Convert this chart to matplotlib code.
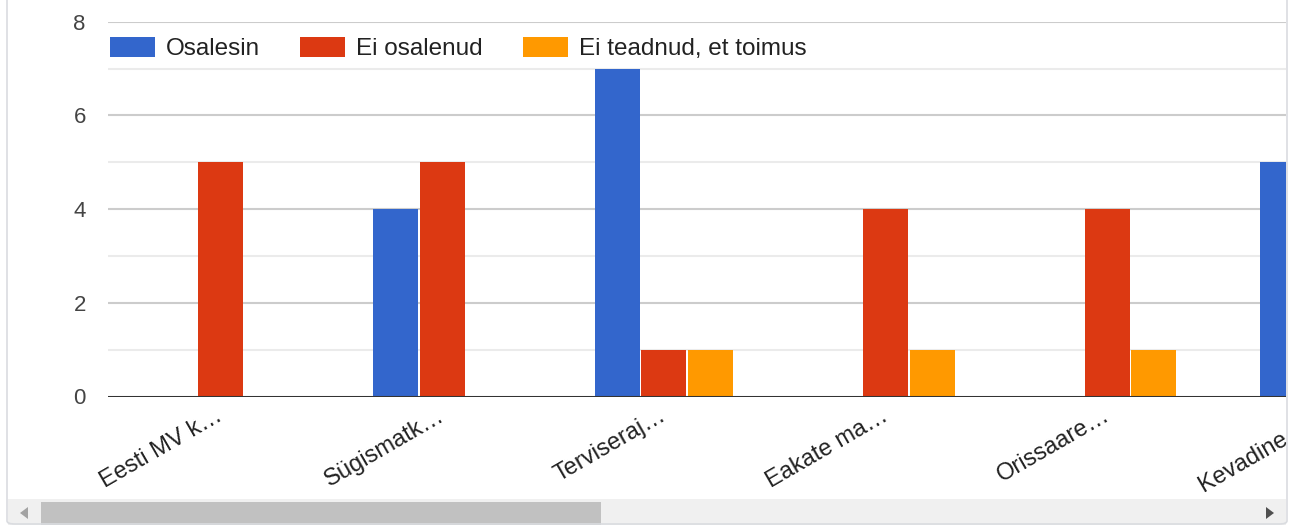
import matplotlib.pyplot as plt
import numpy as np
from matplotlib.patches import FancyBboxPatch, Rectangle, Polygon
from matplotlib.transforms import blended_transform_factory, offset_copy

plt.rcParams['font.family'] = ['Liberation Sans', 'DejaVu Sans']

# Vastused ürituste kaupa
sundmused = ['Eesti MV k…', 'Sügismatk…', 'Terviseraj…', 'Eakate ma…', 'Orissaare…', 'Kevadine m…']
osalesin = [0, 4, 7, 0, 0, 5]
ei_osalenud = [5, 5, 1, 4, 4, 0]
ei_teadnud = [0, 0, 1, 1, 1, 0]
y_ticks = [0, 2, 4, 6, 8]

seeriad = ['Osalesin', 'Ei osalenud', 'Ei teadnud, et toimus']
varvid = ['#3366cc', '#dc3912', '#ff9900']

fig = plt.figure(figsize=(13, 5.25), dpi=100)
ax = fig.add_axes([108 / 1300, 128.5 / 525, 1178 / 1300, 374.8 / 525])

index = np.arange(len(sundmused))
samm = 0.2097
laius = 0.203

for k, (nimi, andmed) in enumerate(zip(seeriad, [osalesin, ei_osalenud, ei_teadnud])):
    ax.bar(index + (k - 1) * samm, andmed, laius, color=varvid[k], label=nimi, zorder=3)

# ruudustik
for y in [1, 3, 5, 7]:
    ax.axhline(y, color='#ebebeb', lw=1.5, zorder=1)
for y in y_ticks[1:]:
    ax.axhline(y, color='#cccccc', lw=1.5, zorder=1)
ax.axhline(0, color='#333333', lw=2.2, zorder=4)

for s in ax.spines.values():
    s.set_visible(False)

ax.set_yticks(y_ticks)
ax.set_yticklabels([str(v) for v in y_ticks])
ax.tick_params(axis='y', length=0, pad=16, labelsize=16, labelcolor='#444444')
ax.set_xticks([])

# kategooriate sildid (viimane on paremast servast lõigatud)
trans = offset_copy(blended_transform_factory(ax.transData, ax.transAxes),
                    fig=fig, x=-5, y=-8, units='dots')
for i, nimi in zip(index, sundmused):
    ax.text(i, 0, nimi, transform=trans, rotation=30, ha='right', va='top',
            rotation_mode='anchor', fontsize=17, color='#222222', clip_on=False)

ax.set_xlim(-0.507, 4.805)
ax.set_ylim(0, 8)

leg = ax.legend(loc='center left', bbox_to_anchor=(0.002, 7.42 / 8), ncol=3, frameon=False,
                fontsize=17.5, handlelength=1.85, handleheight=0.85, handletextpad=0.45,
                columnspacing=1.65, borderaxespad=0, borderpad=0)
for t in leg.get_texts():
    t.set_color('#222222')

# parem serv lõigatud
fig.patches.append(Rectangle((1287 / 1300, 0), 13 / 1300, 1, transform=fig.transFigure,
                             facecolor='white', edgecolor='none', zorder=10))

# kerimisriba
fig.patches.append(Rectangle((8 / 1300, 0), 1278 / 1300, 26 / 525, transform=fig.transFigure,
                             facecolor='#f0f0f0', edgecolor='none', zorder=11))
fig.patches.append(Rectangle((41 / 1300, 0), 560 / 1300, 23 / 525, transform=fig.transFigure,
                             facecolor='#c1c1c1', edgecolor='none', zorder=12))
fig.patches.append(Polygon([(20 / 1300, 12 / 525), (28 / 1300, 18 / 525), (28 / 1300, 6 / 525)],
                           closed=True, transform=fig.transFigure, facecolor='#a3a3a3',
                           edgecolor='none', zorder=12))
fig.patches.append(Polygon([(1274 / 1300, 12 / 525), (1266 / 1300, 18 / 525), (1266 / 1300, 6 / 525)],
                           closed=True, transform=fig.transFigure, facecolor='#505050',
                           edgecolor='none', zorder=12))

# raam
fig.patches.append(FancyBboxPatch((7 / 1300, 1 / 525), 1280 / 1300, 560 / 525,
                                  boxstyle='round,pad=0,rounding_size=0.006',
                                  transform=fig.transFigure, facecolor='none',
                                  edgecolor='#dadce0', lw=1.2, zorder=13))

fig.savefig('out.png', dpi=100)
